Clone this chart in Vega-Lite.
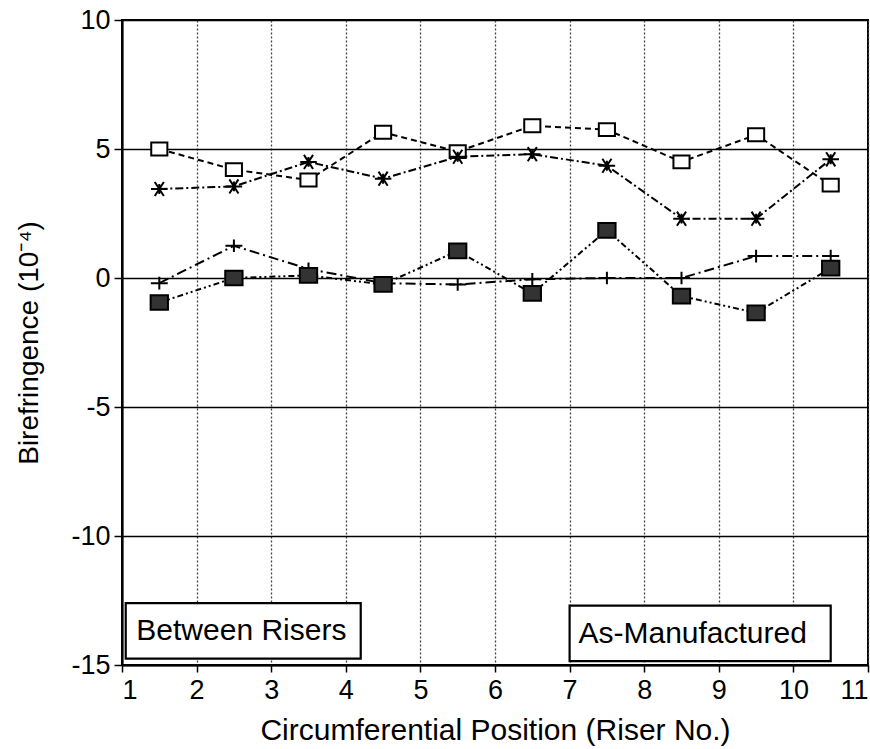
{
  "$schema": "https://vega.github.io/schema/vega-lite/v6.json",
  "width": 746,
  "height": 645,
  "autosize": {"type": "none"},
  "padding": {"left": 122, "top": 20, "right": 2, "bottom": 84},
  "background": "white",
  "config": {
    "font": "Liberation Sans",
    "view": {"stroke": "black", "strokeWidth": 2}
  },
  "datasets": {
    "points": [
      {"series": "open", "riser": 1.5, "value": 5.0},
      {"series": "open", "riser": 2.5, "value": 4.2},
      {"series": "open", "riser": 3.5, "value": 3.8},
      {"series": "open", "riser": 4.5, "value": 5.65},
      {"series": "open", "riser": 5.5, "value": 4.9},
      {"series": "open", "riser": 6.5, "value": 5.9},
      {"series": "open", "riser": 7.5, "value": 5.75},
      {"series": "open", "riser": 8.5, "value": 4.5},
      {"series": "open", "riser": 9.5, "value": 5.55},
      {"series": "open", "riser": 10.5, "value": 3.6},
      {"series": "star", "riser": 1.5, "value": 3.45},
      {"series": "star", "riser": 2.5, "value": 3.55},
      {"series": "star", "riser": 3.5, "value": 4.5},
      {"series": "star", "riser": 4.5, "value": 3.85},
      {"series": "star", "riser": 5.5, "value": 4.7},
      {"series": "star", "riser": 6.5, "value": 4.8},
      {"series": "star", "riser": 7.5, "value": 4.35},
      {"series": "star", "riser": 8.5, "value": 2.3},
      {"series": "star", "riser": 9.5, "value": 2.3},
      {"series": "star", "riser": 10.5, "value": 4.6},
      {"series": "plus", "riser": 1.5, "value": -0.2},
      {"series": "plus", "riser": 2.5, "value": 1.25},
      {"series": "plus", "riser": 3.5, "value": 0.35},
      {"series": "plus", "riser": 4.5, "value": -0.2},
      {"series": "plus", "riser": 5.5, "value": -0.25},
      {"series": "plus", "riser": 6.5, "value": -0.05},
      {"series": "plus", "riser": 7.5, "value": 0.0},
      {"series": "plus", "riser": 8.5, "value": 0.0},
      {"series": "plus", "riser": 9.5, "value": 0.85},
      {"series": "plus", "riser": 10.5, "value": 0.85},
      {"series": "filled", "riser": 1.5, "value": -0.95},
      {"series": "filled", "riser": 2.5, "value": 0.0},
      {"series": "filled", "riser": 3.5, "value": 0.1},
      {"series": "filled", "riser": 4.5, "value": -0.25},
      {"series": "filled", "riser": 5.5, "value": 1.05},
      {"series": "filled", "riser": 6.5, "value": -0.6},
      {"series": "filled", "riser": 7.5, "value": 1.85},
      {"series": "filled", "riser": 8.5, "value": -0.7},
      {"series": "filled", "riser": 9.5, "value": -1.35},
      {"series": "filled", "riser": 10.5, "value": 0.38}
    ],
    "notes": [
      {"label": "Between Risers", "x1": 1.05, "x2": 4.2, "y1": -12.6, "y2": -14.75, "xm": 2.6, "ym": -13.7},
      {"label": "As-Manufactured", "x1": 7.0, "x2": 10.5, "y1": -12.7, "y2": -14.85, "xm": 8.65, "ym": -13.8}
    ]
  },
  "layer": [
    {
      "data": {"name": "notes"},
      "mark": {"type": "rect", "fill": "white", "stroke": "black", "strokeWidth": 2.2},
      "encoding": {
        "x": {"field": "x1", "type": "quantitative", "scale": {"domain": [1, 11], "nice": false, "zero": false},
          "axis": {"values": [1, 2, 3, 4, 5, 6, 7, 8, 9, 10, 11], "labelExpr": "datum.value + ''",
            "title": "Circumferential Position (Riser No.)",
            "labelFontSize": 27, "labelColor": "black", "titleFontSize": 30, "titleFontWeight": "normal", "titleColor": "black",
            "domainColor": "black", "domainWidth": 2.2, "tickColor": "black", "tickWidth": 1.5,
            "grid": true, "gridColor": "#444", "gridDash": [2, 2], "gridWidth": 1.3,
            "tickSize": 7, "labelPadding": 5, "titlePadding": 12}},
        "x2": {"field": "x2"},
        "y": {"field": "y1", "type": "quantitative", "scale": {"domain": [-15, 10], "nice": false, "zero": false},
          "axis": {"values": [-15, -10, -5, 0, 5, 10], "labelExpr": "datum.value + ''",
            "title": "Birefringence (10⁻⁴)",
            "labelFontSize": 27, "labelColor": "black", "titleFontSize": 28, "titleFontWeight": "normal", "titleColor": "black",
            "domainColor": "black", "domainWidth": 2.2, "tickColor": "black", "tickWidth": 1.5,
            "grid": true, "gridColor": "black", "gridWidth": 1.4,
            "tickSize": 8, "labelPadding": 4, "titlePadding": 27}},
        "y2": {"field": "y2"}
      }
    },
    {
      "data": {"name": "notes"},
      "mark": {"type": "text", "fontSize": 30, "color": "black", "align": "center", "baseline": "middle"},
      "encoding": {
        "x": {"field": "xm", "type": "quantitative"},
        "y": {"field": "ym", "type": "quantitative"},
        "text": {"field": "label"}
      }
    },
    {
      "data": {"name": "points"},
      "mark": {"type": "line", "color": "black", "strokeWidth": 2},
      "encoding": {
        "x": {"field": "riser", "type": "quantitative"},
        "y": {"field": "value", "type": "quantitative"},
        "strokeDash": {"field": "series", "type": "nominal", "legend": null,
          "scale": {"domain": ["open", "star", "plus", "filled"],
            "range": [[6, 4], [8, 3, 2, 3], [10, 4, 2, 4], [6, 3, 2, 3, 2, 3]]}}
      }
    },
    {
      "data": {"name": "points"},
      "mark": {"type": "point", "filled": false, "stroke": "black", "strokeWidth": 2, "opacity": 1},
      "encoding": {
        "x": {"field": "riser", "type": "quantitative"},
        "y": {"field": "value", "type": "quantitative"},
        "shape": {"field": "series", "type": "nominal", "legend": null,
          "scale": {"domain": ["open", "star", "plus", "filled"],
            "range": ["M-1,-0.8H1V0.8H-1Z",
                      "M-1,0L1,0M-0.55,-0.85L0.55,0.85M-0.55,0.85L0.55,-0.85M0,-0.6L0,0.6",
                      "M-1,0L1,0M0,-0.75L0,0.75",
                      "M-1,-0.85H1V0.85H-1Z"]}},
        "fill": {"field": "series", "type": "nominal", "legend": null,
          "scale": {"domain": ["open", "star", "plus", "filled"],
            "range": ["white", "transparent", "transparent", "#333333"]}},
        "size": {"field": "series", "type": "nominal", "legend": null,
          "scale": {"domain": ["open", "star", "plus", "filled"],
            "range": [260, 300, 240, 240]}}
      }
    }
  ]
}
